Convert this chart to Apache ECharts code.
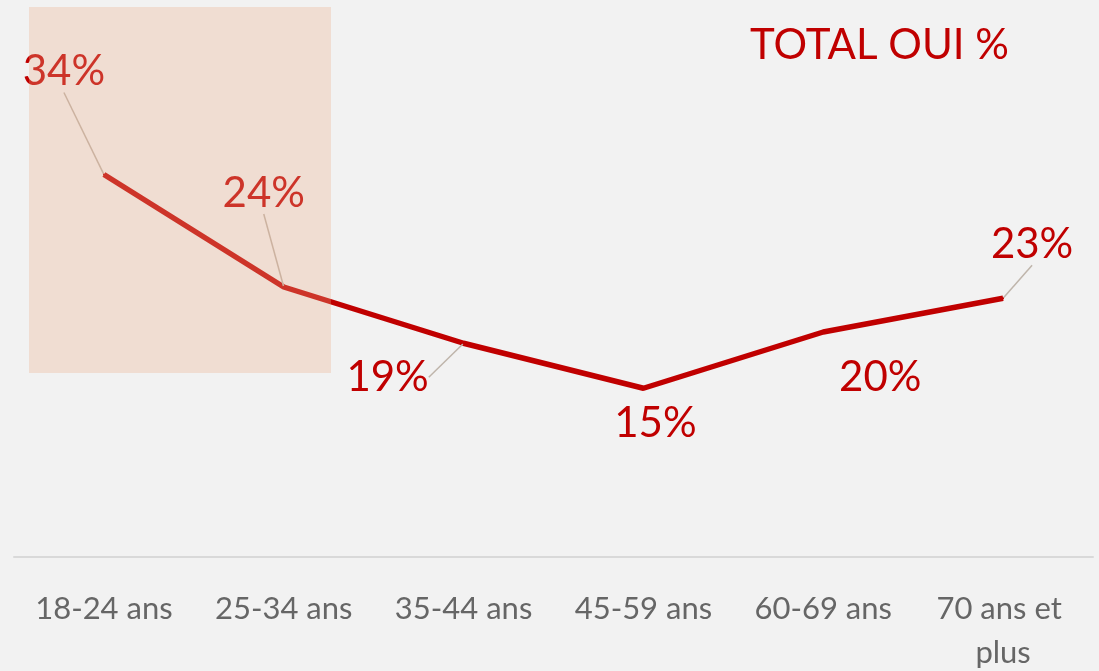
<!DOCTYPE html>
<html>
<head>
<meta charset="utf-8">
<title>TOTAL OUI %</title>
<script src="https://cdn.jsdelivr.net/npm/echarts@6/dist/echarts.min.js"></script>
<style>
	html, body { margin: 0; padding: 0; background: #f2f2f2; }
	#main { width: 1099px; height: 671px; }
</style>
</head>
<body>
<div id="main"></div>
<script>
	// tranches d'age et valeurs (%)
	var categories = ['18-24 ans', '25-34 ans', '35-44 ans', '45-59 ans', '60-69 ans', '70 ans et plus'];
	var totalOui = [34, 24, 19, 15, 20, 23];

	// decalage des etiquettes par point [dx, dy] et trait de rappel
	var labelShift = [[-40, -103], [-20, -94], [-76, 34], [12, 35], [57, 45], [29, -54]];
	var labelLink = [true, true, true, false, false, true];

	var chart = echarts.init(document.getElementById('main'));

	var seriesData = totalOui.map(function(v, i) {
		return {
			value: v,
			labelLine: { show: labelLink[i] }
		};
	});

	var option = {
		backgroundColor: '#f2f2f2',
		animation: false,
		title: {
			text: 'TOTAL OUI %',
			left: 745,
			top: 19,
			textStyle: {
				fontFamily: 'Lato',
				fontSize: 42,
				fontWeight: 'normal',
				color: '#c00000'
			}
		},
		grid: {
			left: 14,
			right: 6,
			top: 107,
			bottom: 114,
			containLabel: false,
			outerBoundsMode: 'none'
		},
		xAxis: {
			type: 'category',
			data: categories,
			boundaryGap: true,
			axisLine: { lineStyle: { color: '#d9d9d9', width: 2 } },
			axisTick: { show: false },
			axisLabel: {
				margin: 30,
				fontFamily: 'Lato',
				fontSize: 31,
				lineHeight: 44,
				color: '#666666',
				width: 170,
				overflow: 'break',
				interval: 0
			}
		},
		yAxis: {
			type: 'value',
			min: 0,
			max: 40,
			show: false,
			splitLine: { show: false }
		},
		series: [{
			type: 'line',
			data: seriesData,
			symbol: 'circle',
			symbolSize: 2,
			itemStyle: { color: '#c00000' },
			lineStyle: { color: '#c00000', width: 5.5 },
			label: {
				show: true,
				position: 'inside',
				fontFamily: 'Lato',
				fontSize: 42,
				color: '#c00000',
				formatter: '{c}%'
			},
			labelLine: {
				show: true,
				lineStyle: { color: '#bfb5ab', width: 1.5 }
			},
			labelLayout: function(params) {
				var s = labelShift[params.dataIndex];
				return { dx: s[0], dy: s[1] };
			}
		}],
		graphic: [{
			type: 'rect',
			z: 100,
			shape: { x: 29, y: 7, width: 302, height: 366 },
			style: { fill: 'rgba(235,173,137,0.3)' }
		}]
	};

	chart.setOption(option);
	window.onresize = function() {
		chart.resize();
	};
</script>
</body>
</html>
